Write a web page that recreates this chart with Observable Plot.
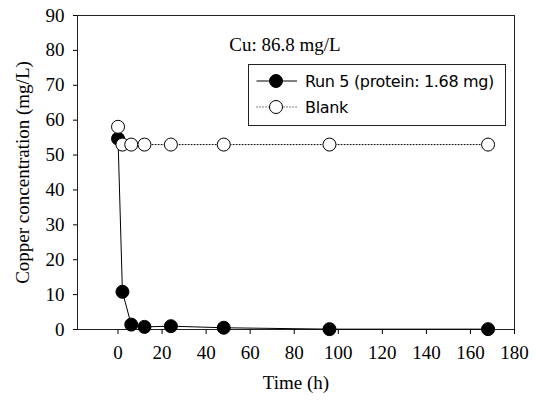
<!DOCTYPE html>
<html><head><meta charset="utf-8">
<script src="https://cdn.jsdelivr.net/npm/d3@7"></script>
<script src="https://cdn.jsdelivr.net/npm/@observablehq/plot@0.6"></script>
<style>
body{margin:0;background:#fff;}
#wrap{position:relative;width:536px;height:405px;overflow:hidden;}
#legend{position:absolute;left:247.5px;top:64px;width:256px;height:60px;border:1px solid #222;background:#fff;}
#legend svg{position:absolute;left:0;top:0;overflow:visible;}
</style></head><body><div id="wrap"></div>
<script>
// ---- data ----
const timeRun5 = [0, 2, 6, 12, 24, 48, 96, 168];
const valuesRun5 = [54.7, 10.8, 1.4, 0.75, 0.95, 0.5, 0.1, 0.1];
const timeBlank = [0, 2, 6, 12, 24, 48, 96, 168];
const valuesBlank = [58.1, 53, 53, 53, 53, 53, 53, 53];
const seriesNames = ["Run 5 (protein: 1.68 mg)", "Blank"];
const xTicks = [0, 20, 40, 60, 80, 100, 120, 140, 160, 180];
const yTicks = [0, 10, 20, 30, 40, 50, 60, 70, 80, 90];
const annotation = "Cu: 86.8 mg/L";
const xLabel = "Time (h)";
const yLabel = "Copper concentration (mg/L)";

const run5 = timeRun5.map((t, i) => ({t, v: valuesRun5[i]}));
const blank = timeBlank.map((t, i) => ({t, v: valuesBlank[i]}));
const serif = "'Liberation Serif', 'Times New Roman', serif";

const chart = Plot.plot({
  width: 536, height: 405,
  marginLeft: 77, marginRight: 22, marginTop: 15, marginBottom: 76,
  style: {fontFamily: serif, fontSize: "19px", background: "#fff", color: "#000", overflow: "visible"},
  x: {domain: [-18.4, 180]},
  y: {domain: [0, 90]},
  marks: [
    Plot.frame({stroke: "#222", strokeWidth: 1}),
    Plot.axisX({ticks: xTicks, tickSize: 5, tickPadding: 11, label: null, fontSize: 19, fontFamily: serif}),
    Plot.axisY({ticks: yTicks, tickSize: 4, tickPadding: 9, label: null, fontSize: 19, fontFamily: serif}),
    Plot.line(run5, {x: "t", y: "v", stroke: "#000", strokeWidth: 1}),
    Plot.dot(run5, {x: "t", y: "v", r: 6.5, fill: "#000", stroke: "#000", strokeWidth: 1}),
    Plot.line(blank, {x: "t", y: "v", stroke: "#000", strokeWidth: 1, strokeDasharray: "1,2"}),
    Plot.dot(blank, {x: "t", y: "v", r: 6.5, fill: "#fff", stroke: "#000", strokeWidth: 1}),
    Plot.text([annotation], {frameAnchor: "top", dx: -11, dy: 22, fontSize: 19, fontFamily: serif}),
    Plot.text([xLabel], {frameAnchor: "bottom", dy: 59, fontSize: 19, fontFamily: serif}),
    Plot.text([yLabel], {frameAnchor: "left", textAnchor: "middle", rotate: -90, dx: -55, fontSize: 19, fontFamily: serif})
  ]
});
const wrap = document.getElementById("wrap");
wrap.appendChild(chart);

// ---- legend ----
const legend = document.createElement("div");
legend.id = "legend";
const ns = "http://www.w3.org/2000/svg";
const svg = document.createElementNS(ns, "svg");
svg.setAttribute("width", 256); svg.setAttribute("height", 60);
const rows = [
  {name: seriesNames[0], y: 16, dash: null, fill: "#000"},
  {name: seriesNames[1], y: 42, dash: "1,2", fill: "#fff"}
];
for (const r of rows) {
  const line = document.createElementNS(ns, "line");
  line.setAttribute("x1", 7.5); line.setAttribute("x2", 48); line.setAttribute("y1", r.y); line.setAttribute("y2", r.y);
  line.setAttribute("stroke", "#000");
  if (r.dash) line.setAttribute("stroke-dasharray", r.dash);
  svg.appendChild(line);
  const c = document.createElementNS(ns, "circle");
  c.setAttribute("cx", 27); c.setAttribute("cy", r.y); c.setAttribute("r", 6.5);
  c.setAttribute("fill", r.fill); c.setAttribute("stroke", "#000");
  svg.appendChild(c);
  const t = document.createElementNS(ns, "text");
  t.setAttribute("x", 56); t.setAttribute("y", r.y); t.setAttribute("dy", "0.36em");
  t.setAttribute("font-family", "'DejaVu Sans', Verdana, sans-serif");
  t.setAttribute("font-size", 16); t.setAttribute("letter-spacing", "-0.35");
  t.textContent = r.name;
  svg.appendChild(t);
}
legend.appendChild(svg);
wrap.appendChild(legend);
</script>
</body></html>
